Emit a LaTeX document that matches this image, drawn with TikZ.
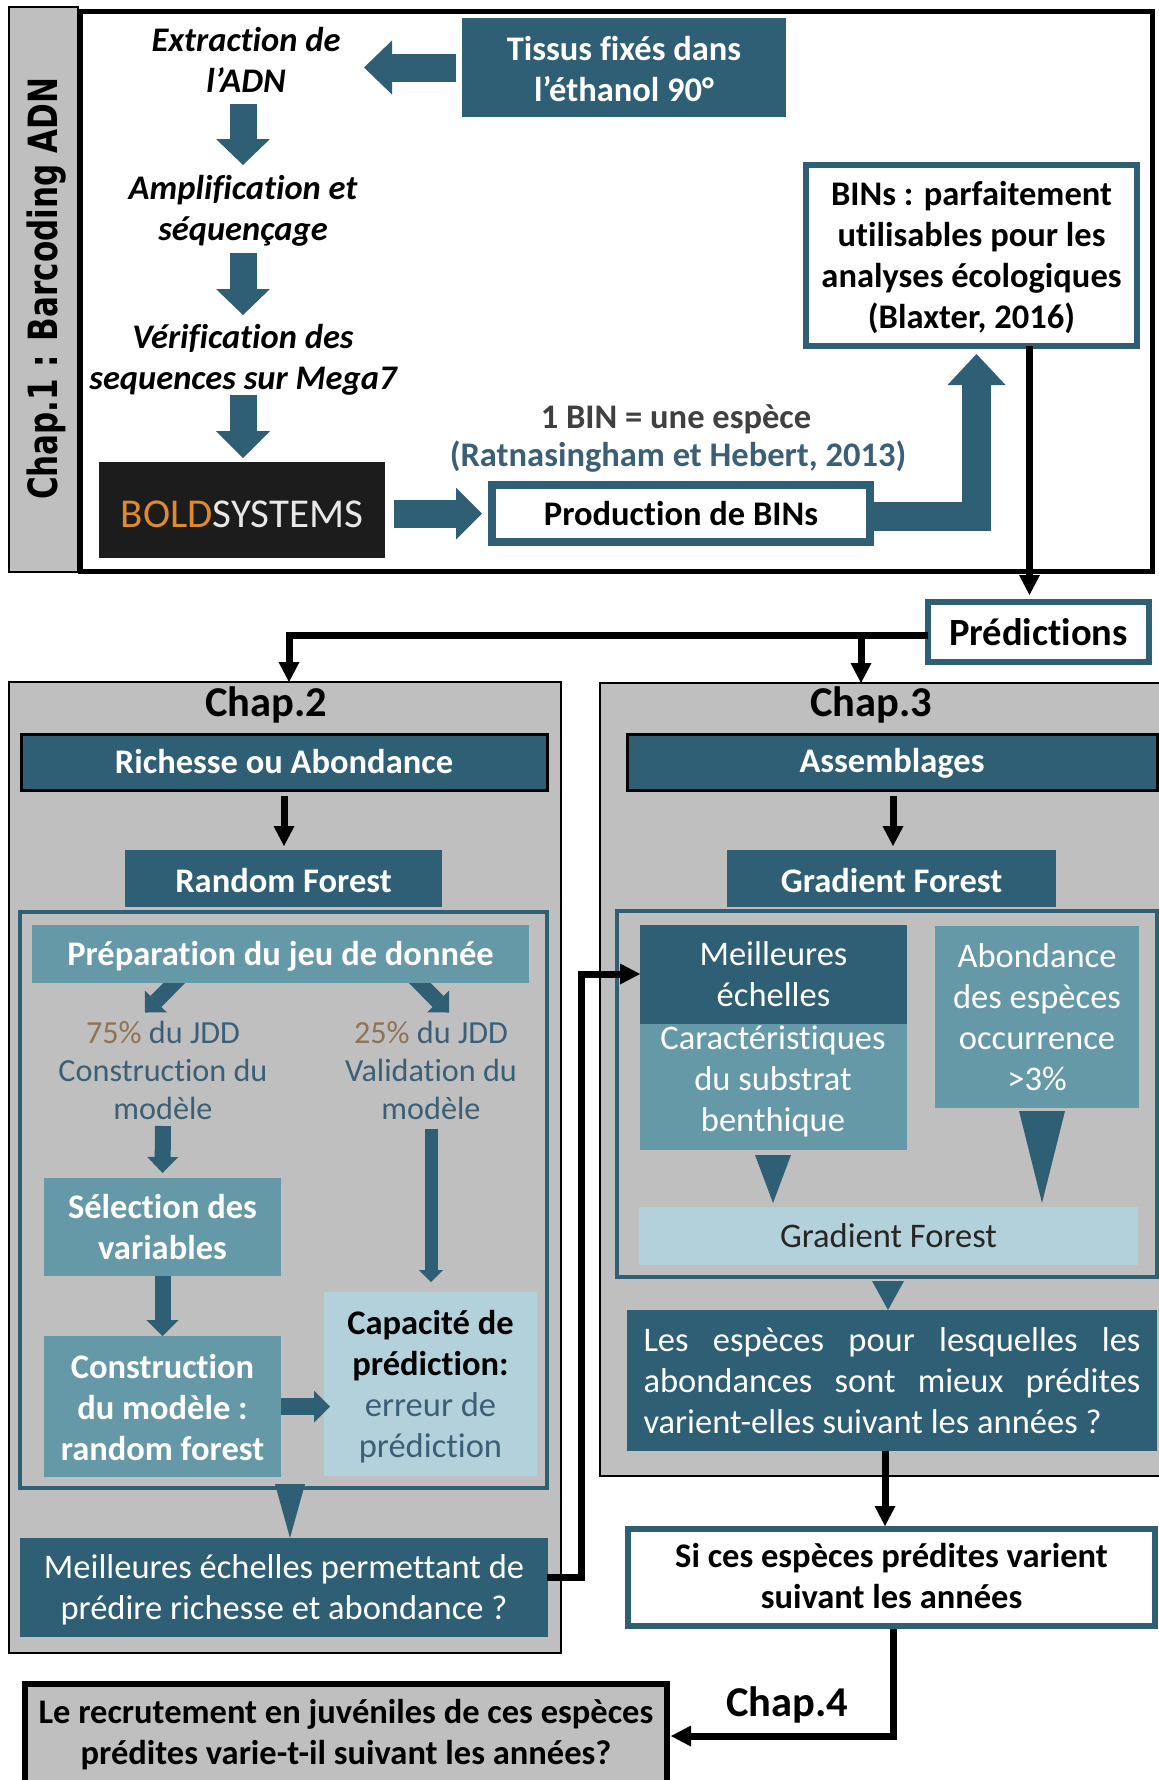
\documentclass[tikz,border=0pt]{standalone}
\usepackage{fontspec}
\usepackage{graphicx}
\setmainfont{Carlito}[Ligatures=NoCommon]
\newfontfamily\verdanaish{DejaVu Sans}
\usetikzlibrary{arrows.meta,calc}
\definecolor{tealD}{HTML}{2F5F75}
\definecolor{tealM}{HTML}{6699A8}
\definecolor{tealL}{HTML}{B3D1DA}
\definecolor{grayP}{HTML}{BFBFBF}
\definecolor{txtT}{HTML}{3B6076}
\definecolor{brn}{HTML}{8F7355}
\newcommand\boxnode[7]{%
 \pgfmathsetmacro\bw{#4-#2}\pgfmathsetmacro\bh{#5-#3}%
 \pgfmathsetmacro\bcx{(#2+#4)/2}\pgfmathsetmacro\bcy{(#3+#5)/2}%
 \node[#6,minimum width=\bw pt,minimum height=\bh pt,inner sep=0pt,outer sep=0pt] (#1) at (\bcx,\bcy) {#7};}
\newcommand\up[2]{\raisebox{#1}[\height][\depth]{\begin{tabular}{@{}c@{}}#2\end{tabular}}}
\tikzset{
 fnt/.style={font=\fontsize{34.5}{41}\selectfont,align=center},
 fnts/.style={font=\fontsize{32.2}{38}\selectfont,align=center},
 fntb/.style={font=\fontsize{34.5}{41}\selectfont\bfseries,align=center},
 fnti/.style={font=\fontsize{34.5}{41}\selectfont\bfseries\itshape,align=center},
 chapt/.style={font=\fontsize{42.5}{44}\selectfont\bfseries},
 panel/.style={fill=grayP,draw=black,line width=1.5pt},
 darkbox/.style={fill=tealD,text=white},
 medbox/.style={fill=tealM,text=white},
 lightbox/.style={fill=tealL},
 frameT/.style={draw=tealD,line width=3.5pt},
 whitebox/.style={fill=white,draw=tealD},
 ba/.style n args={3}{draw=tealD,line width=#1pt,-{Triangle[length=#2pt,width=#3pt,line width=0pt]}},
 bk/.style={draw=black,line width=7pt,-{Triangle[length=20pt,width=21pt,line width=0pt]}},
 tri/.style n args={2}{draw=tealD,line width=0.01pt,-{Triangle[length=#1pt,width=#2pt,line width=0pt]}},
}
\begin{document}
\begin{tikzpicture}[x=1pt,y=-1pt]
\useasboundingbox (0,0) rectangle (1159,1780);
\fill[white] (0,0) rectangle (1159,1780);
% Chapter 1
\boxnode{chI}{9}{7}{78}{572}{fill=grayP,draw=black,line width=1.5pt}{}
\boxnode{mainf}{80}{11}{1152}{571}{draw=black,line width=5pt}{}
\node[font=\verdanaish\bfseries\fontsize{31}{40}\selectfont,inner sep=0pt] (chIt) at (47,289) {\rotatebox{90}{\scalebox{1}[1.3]{Chap.1 : Barcoding ADN}}};
\boxnode{tis}{462}{18}{786}{117}{darkbox,fntb}{\up{-5pt}{Tissus fixés dans\\l’éthanol 90°}}
\boxnode{ext}{124}{16}{368}{104}{fnti}{\up{-3.5pt}{Extraction de\\l’ADN}}
\boxnode{amp}{123}{165}{363}{253}{fnti}{\up{-3pt}{Amplification et\\séquençage}}
\boxnode{ver}{83}{315}{403}{401}{fnti}{\up{-3pt}{Vérification des\\sequences sur Mega7}}
\boxnode{bold}{99}{462}{385}{558}{fill=black!89}{\raisebox{-4.5pt}[\height][\depth]{\fontsize{41}{41}\selectfont\textcolor[HTML]{E08A2E}{BOLD}\textcolor[HTML]{E8E8E8}{SYSTEMS}}}
\boxnode{prod}{492}{485}{870}{542}{whitebox,line width=8pt,fntb}{Production de BINs}
\boxnode{bins}{806}{165}{1137}{346}{whitebox,line width=6pt,fntb}{\up{-3.5pt}{BINs : parfaitement\\utilisables pour les\\analyses écologiques\\(Blaxter, 2016)}}
\node[fntb,text=black!75] (binesp) at (676,419) {1 BIN = une espèce};
\node[fntb,text=txtT] (ratn) at (678,457) {(Ratnasingham et Hebert, 2013)};
\draw[ba={28}{28}{54}] ([xshift=-6pt]tis.west) -- ([xshift=-4pt]ext.east |- tis.west);
\draw[ba={27}{26}{54}] ([xshift=-3pt]ext.south) -- (amp.north);
\draw[ba={27}{26}{54}] (amp.south) -- (ver.north);
\draw[ba={27}{27}{54}] ([yshift=6pt]ver.south) -- ([yshift=4pt]ver.south |- bold.north);
\draw[ba={28}{26}{52}] ([xshift=9pt]bold.east |- prod.west) -- ([xshift=-10pt]prod.west);
\draw[ba={29}{31}{58}] ([xshift=4pt,yshift=-2.5pt]prod.east) -| ([xshift=5pt,yshift=-8pt]bins.south);
\boxnode{pred}{928}{602}{1149}{662}{whitebox,line width=5.5pt,font=\fontsize{38.5}{41}\selectfont\bfseries}{Prédictions}
\draw[bk] ([xshift=58pt]bins.south) -- ([xshift=58pt,yshift=7pt]bins.south |- pred.north);
% Chapter 2
\boxnode{chII}{9}{682}{561}{1653}{panel}{}
\boxnode{chIII}{600}{683}{1164}{1476}{panel}{}
\node[chapt] (tII) at (266,705) {Chap.2};
\node[chapt] (tIII) at (871,705) {Chap.3};
\draw[bk] ([yshift=-3.5pt]pred.west) -| ([xshift=4pt]chII.north);
\coordinate (jn) at (861,636);
\draw[bk] (jn) -- (jn |- chIII.north);
\boxnode{rich}{21}{734}{547}{790}{darkbox,draw=black,line width=3pt,fntb}{Richesse ou Abondance}
\boxnode{rf}{125}{850}{442}{907}{darkbox,fntb}{\up{-5.5pt}{Random Forest}}
\draw[bk] ([yshift=-6pt]rich.south) -- ([yshift=4pt]rich.south |- rf.north);
\boxnode{frII}{20}{912}{547}{1488}{frameT}{}
\boxnode{prep}{32}{925}{529}{983}{medbox,fntb}{\up{-3pt}{Préparation du jeu de donnée}}
\boxnode{sevfive}{53}{1014}{273}{1126}{fnts,text=txtT}{\textcolor{brn}{75\%} du JDD\\Construction du\\modèle}
\boxnode{twofive}{321}{1011}{541}{1129}{fnts,text=txtT}{\textcolor{brn}{25\%} du JDD\\Validation du\\modèle}
\coordinate (dl) at (145,1012.5);
\coordinate (dr) at (449,1012.5);
\begin{scope}
\clip (prep.south west) rectangle (529,1020);
\draw[ba={15.5}{15.5}{31}] ([xshift=-83.5pt,yshift=-35pt]prep.north) -- (dl);
\draw[ba={15.5}{15.5}{31}] ([xshift=116.5pt,yshift=-35pt]prep.north) -- (dr);
\end{scope}
\boxnode{sel}{44}{1178}{281}{1276}{medbox,fntb}{\up{-3.5pt}{Sélection des\\variables}}
\boxnode{cons}{44}{1336}{281}{1477}{medbox,fntb}{\up{-4.5pt}{Construction\\du modèle :\\random forest}}
\boxnode{capa}{324}{1292}{537}{1476}{lightbox,fnt}{\up{-4pt}{\textbf{Capacité de}\\\textbf{prédiction:}\\\textcolor{txtT}{erreur de}\\\textcolor{txtT}{prédiction}}}
\draw[ba={16}{16}{31}] (sevfive.south) -- ([yshift=5pt]sel.north);
\draw[ba={13}{12}{24}] (twofive.south) -- ([yshift=10pt]twofive.south |- capa.north);
\draw[ba={16}{16}{32}] (sel.south) -- (cons.north);
\draw[ba={17}{16}{32}] (cons.east) -- ([xshift=6pt]cons.east -| capa.west);
\boxnode{meilq}{20}{1538}{548}{1637}{darkbox,fnt}{\up{-3pt}{Meilleures échelles permettant de\\prédire richesse et abondance ?}}
\coordinate (tA) at (290,1484);
\draw[tri={54}{30}] (tA) -- (tA |- meilq.north);
% Chapter 3
\boxnode{assem}{627}{734}{1157}{790}{darkbox,draw=black,line width=3pt,fntb}{\up{-2pt}{Assemblages}}
\boxnode{gf}{727}{850}{1056}{907}{darkbox,fntb}{\up{-5.5pt}{Gradient Forest}}
\draw[bk] ([yshift=-6pt,xshift=1pt]assem.south) -- ([yshift=4pt,xshift=1pt]assem.south |- gf.north);
\boxnode{frIII}{617}{911}{1157}{1277}{frameT}{}
\boxnode{caract}{640}{1024}{907}{1150}{medbox}{}
\boxnode{meil}{640}{925}{907}{1024}{darkbox,fnt}{Meilleures\\échelles}
\node[fnt,text=white] (caracT) at (773,1081) {Caractéristiques\\du substrat\\benthique};
\boxnode{abon}{935}{926}{1139}{1108}{medbox,fnt}{\up{-4pt}{Abondance\\des espèces\\occurrence\\>3\%}}
\boxnode{gfl}{639}{1207}{1138}{1265}{lightbox,fnt,text=black!85}{Gradient Forest}
\coordinate (tB) at (773,1155);
\coordinate (tC) at (1042,1111);
\coordinate (tD) at (888,1281);
\draw[tri={48}{36}] (tB) -- ([yshift=4pt]tB |- gfl.north);
\draw[tri={92}{46}] (tC) -- ([yshift=4pt]tC |- gfl.north);
\boxnode{lesesp}{627}{1310}{1157}{1451}{darkbox,fnt}{}
\node[fnt,text=white,align=left] (lesespT) at (892,1381) {\makebox[497pt][s]{Les espèces pour lesquelles les}\\\makebox[497pt][s]{abondances sont mieux prédites}\\varient-elles suivant les années ?};
\draw[tri={29}{32}] (tD) -- (tD |- lesesp.north);
\boxnode{sices}{628}{1529}{1155}{1626}{whitebox,line width=5.5pt,fntb}{\up{-2.5pt}{Si ces espèces prédites varient\\suivant les années}}
\draw[bk] ([xshift=-7pt]lesesp.south) -- ([xshift=-7pt,yshift=3pt]lesesp.south |- sices.north);
\boxnode{recr}{25}{1684}{667}{1785}{panel,line width=6pt,fntb}{\up{-1pt}{Le recrutement en juvéniles de ces espèces\\prédites varie-t-il suivant les années?}}
\node[chapt] (tIV) at (787,1705) {Chap.4};
\draw[bk] ([xshift=2pt,yshift=-3pt]sices.south) |- ([xshift=4pt,yshift=-1.5pt]recr.east);
\draw[bk] ([xshift=-1pt,yshift=10.5pt]meilq.east) -| ([xshift=-59pt,yshift=0.5pt]meil.west) -- ([yshift=0.5pt]meil.west);
\end{tikzpicture}
\end{document}
